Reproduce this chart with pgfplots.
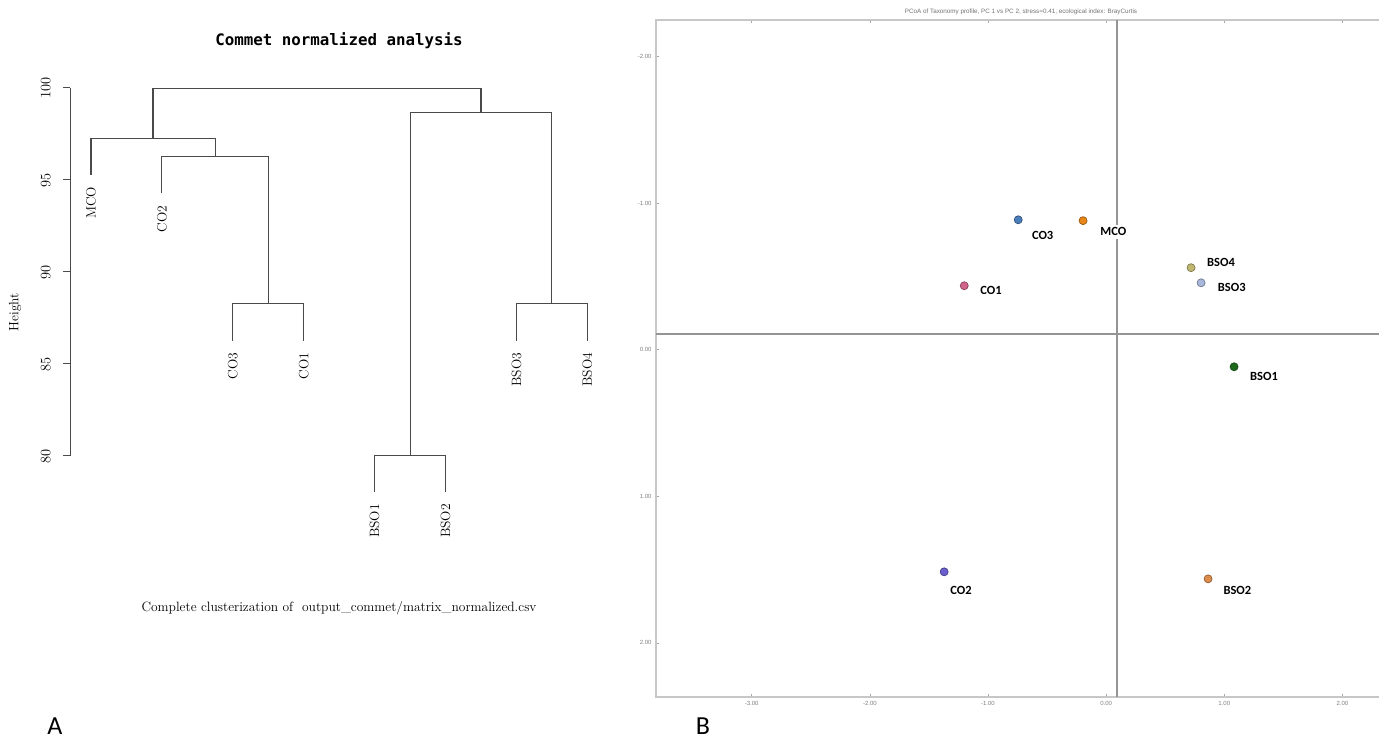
\documentclass[border=0pt]{standalone}
\usepackage{fontspec}
\usepackage{pgfplots}
\pgfplotsset{compat=1.18}
\newfontfamily\calibri{Carlito}
\newfontfamily\titlemono{DejaVu Sans Mono}
\newfontfamily\smallsans{Liberation Sans}
\definecolor{cCOthree}{HTML}{4A7EBB}
\definecolor{cMCO}{HTML}{E8861A}
\definecolor{cCOone}{HTML}{D0648A}
\definecolor{cBSOfour}{HTML}{C0B870}
\definecolor{cBSOthree}{HTML}{A8B8DC}
\definecolor{cBSOone}{HTML}{1E6B1E}
\definecolor{cCOtwo}{HTML}{6A5ED0}
\definecolor{cBSOtwo}{HTML}{DE8C4A}
\definecolor{dendro}{HTML}{4A4A4A}
\begin{document}
\begin{tikzpicture}[x=1pt,y=1pt]
\useasboundingbox (0,0) rectangle (1379,739);

% ---------------- Panel A: dendrogram ----------------
\begin{axis}[
  at={(70pt,283pt)}, anchor=south west, scale only axis,
  width=552.75pt, height=368pt,
  xmin=0.7038, xmax=8.5, ymin=80, ymax=100, clip=false,
  axis x line=none, axis y line*=left,
  axis line style={-, dendro, line width=1pt},
  ytick={80,85,90,95,100},
  tick align=outside, major tick length=7pt,
  tick style={dendro, line width=1pt},
  yticklabel style={xshift=-9pt, rotate=90, anchor=south, font=\fontsize{13.5}{14}\selectfont},
]
\addplot[dendro, line width=1.1pt] coordinates {(3,86.26) (3,88.30) (4,88.30) (4,86.26)};
\addplot[dendro, line width=1.1pt] coordinates {(2,94.27) (2,96.26) (3.5,96.26) (3.5,88.30)};
\addplot[dendro, line width=1.1pt] coordinates {(1,95.29) (1,97.24) (2.75,97.24) (2.75,96.26)};
\addplot[dendro, line width=1.1pt] coordinates {(5,78.04) (5,80.01) (6,80.01) (6,78.04)};
\addplot[dendro, line width=1.1pt] coordinates {(7,86.26) (7,88.30) (8,88.30) (8,86.26)};
\addplot[dendro, line width=1.1pt] coordinates {(5.5,80.01) (5.5,98.65) (7.5,98.65) (7.5,88.30)};
\addplot[dendro, line width=1.1pt] coordinates {(1.875,97.24) (1.875,99.95) (6.5,99.95) (6.5,98.65)};
\begin{scope}[every node/.style={rotate=90, anchor=east, inner sep=0pt, font=\fontsize{13.5}{14}\selectfont}]
\node at (axis cs:1,94.64) {MCO};
\node at (axis cs:2,93.62) {CO2};
\node at (axis cs:3,85.61) {CO3};
\node at (axis cs:4,85.61) {CO1};
\node at (axis cs:5,77.39) {BSO1};
\node at (axis cs:6,77.39) {BSO2};
\node at (axis cs:7,85.61) {BSO3};
\node at (axis cs:8,85.61) {BSO4};
\end{scope}
\end{axis}
\node[font=\titlemono\bfseries\fontsize{15.8}{17}\selectfont] at (339,698) {Commet normalized analysis};
\node[font=\fontsize{13.5}{14}\selectfont] at (339,131) {Complete clusterization of \ output\_commet/matrix\_normalized.csv};
\node[rotate=90, font=\fontsize{13.5}{14}\selectfont] at (15,427) {Height};

% ---------------- Panel B: PCoA ----------------
\begin{axis}[
  at={(656pt,42pt)}, anchor=south west, scale only axis,
  width=734pt, height=677pt,
  xmin=-3.81, xmax=2.403, ymin=-2.25, ymax=2.369, y dir=reverse,
  axis line style={black!22, line width=2pt},
  xtick={-3,-2,-1,0,1,2}, ytick={-2,-1,0,1,2},
  tick align=inside, major tick length=3pt,
  tick style={black!35, line width=0.6pt},
  xticklabel style={font=\smallsans\fontsize{6}{7}\selectfont, text=black!50, yshift=-1pt},
  yticklabel style={font=\smallsans\fontsize{6}{7}\selectfont, text=black!50, xshift=-1pt},
  /pgf/number format/.cd, fixed, fixed zerofill, precision=2, assume math mode=true,
]
\addplot[black!42, line width=2pt] coordinates {(0.093,-2.25) (0.093,2.369)};
\addplot[black!42, line width=2pt] coordinates {(-3.81,-0.109) (2.403,-0.109)};

\addplot[only marks, mark=*, mark size=4pt, mark options={fill=cCOthree, draw=cCOthree!65!black, line width=0.7pt}] coordinates {(-0.744,-0.887)};
\addplot[only marks, mark=*, mark size=4pt, mark options={fill=cMCO, draw=cMCO!65!black, line width=0.7pt}] coordinates {(-0.195,-0.881)};
\addplot[only marks, mark=*, mark size=4pt, mark options={fill=cCOone, draw=cCOone!65!black, line width=0.7pt}] coordinates {(-1.201,-0.437)};
\addplot[only marks, mark=*, mark size=4pt, mark options={fill=cBSOfour, draw=cBSOfour!65!black, line width=0.7pt}] coordinates {(0.719,-0.560)};
\addplot[only marks, mark=*, mark size=4pt, mark options={fill=cBSOthree, draw=cBSOthree!65!black, line width=0.7pt}] coordinates {(0.804,-0.457)};
\addplot[only marks, mark=*, mark size=4pt, mark options={fill=cBSOone, draw=cBSOone!65!black, line width=0.7pt}] coordinates {(1.083,0.116)};
\addplot[only marks, mark=*, mark size=4pt, mark options={fill=cCOtwo, draw=cCOtwo!65!black, line width=0.7pt}] coordinates {(-1.371,1.515)};
\addplot[only marks, mark=*, mark size=4pt, mark options={fill=cBSOtwo, draw=cBSOtwo!65!black, line width=0.7pt}] coordinates {(0.863,1.563)};

\begin{scope}[every node/.style={anchor=west, inner sep=0pt, font=\calibri\bfseries\fontsize{12.5}{13}\selectfont}]
\node at (axis cs:-0.629,-0.780) {CO3};
\node[fill=white, inner sep=3pt] at (axis cs:-0.076,-0.805) {MCO};
\node at (axis cs:-1.066,-0.405) {CO1};
\node at (axis cs:0.854,-0.596) {BSO4};
\node at (axis cs:0.945,-0.423) {BSO3};
\node at (axis cs:1.218,0.184) {BSO1};
\node at (axis cs:-1.320,1.643) {CO2};
\node at (axis cs:0.992,1.643) {BSO2};
\end{scope}
\end{axis}
\node[font=\smallsans\fontsize{6.3}{7}\selectfont, text=black!55] at (1021,727) {PCoA of Taxonomy profile, PC 1 vs PC 2, stress=0.41, ecological index: BrayCurtis};

% panel letters
\node[font=\calibri\fontsize{26}{28}\selectfont, anchor=base] at (55,4) {A};
\node[font=\calibri\fontsize{26}{28}\selectfont, anchor=base] at (703,4) {B};
\end{tikzpicture}
\end{document}
